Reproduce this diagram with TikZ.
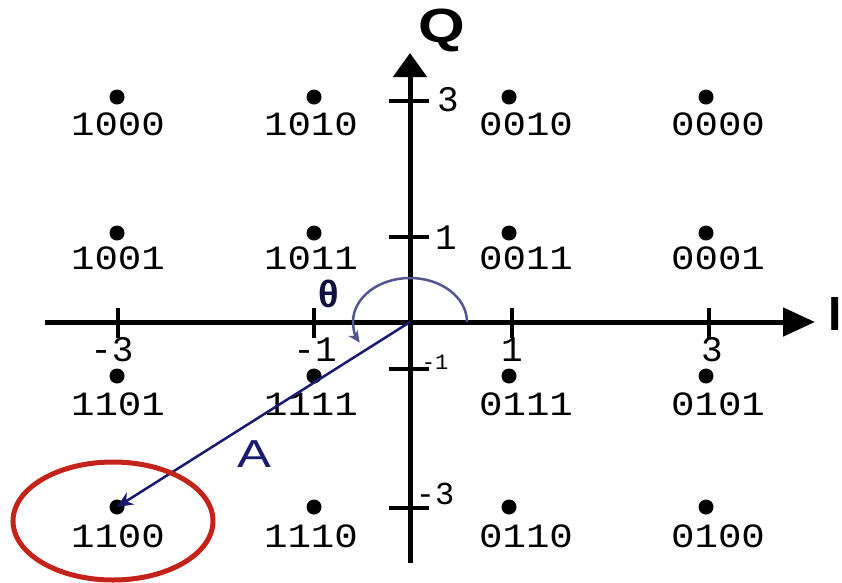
\documentclass[tikz,border=0pt]{standalone}
\usepackage{fontspec}
\setmainfont{Liberation Sans}
\newfontfamily\monof{Liberation Mono}
\usetikzlibrary{arrows.meta}
\definecolor{navy}{RGB}{25,25,110}
\definecolor{arcblue}{RGB}{85,85,145}
\definecolor{circred}{RGB}{195,35,25}
\begin{document}
\begin{tikzpicture}[x=1pt,y=-1pt,
  axisline/.style={line width=5pt},
  tickmark/.style={line width=3.5pt},
  dot/.style={circle,fill=black,inner sep=0pt,minimum size=15pt},
  code/.style={font=\monof\fontsize{34}{34}\selectfont,xscale=1.15,inner sep=0pt},
  ticklab/.style={font=\monof\fontsize{36}{36}\selectfont,inner sep=0pt},
  smalltick/.style={font=\monof\fontsize{22}{22}\selectfont,inner sep=0pt},
  axlab/.style={font=\bfseries\fontsize{48}{48}\selectfont,inner sep=0pt},
]
\useasboundingbox (0,0) rectangle (842,582);
\fill[white] (0,0) rectangle (842,582);

% axes
\coordinate (O) at (410,322);
\coordinate (xl) at (45,322);
\coordinate (xr) at (815,322);
\coordinate (yb) at (410,563);
\coordinate (yt) at (410,53);
\draw[axisline,-{Triangle[length=32pt,width=28pt]}] (xl) -- (xr);
\draw[axisline,-{Triangle[length=24pt,width=33pt]}] (yb) -- (yt);
\node[axlab,xscale=1.25] (Q) at (442,30) {Q};
\node[axlab,anchor=east] (I) at (842,314) {I};

% x ticks
\foreach \x/\n in {118/xa,314/xb,512/xc,709/xd}{
  \coordinate (\n t) at (\x,308);
  \coordinate (\n b) at (\x,338);
  \draw[tickmark] (\n t) -- (\n b);
}
\node[ticklab] (lxa) at (112,350) {-3};
\node[ticklab] (lxb) at (315,350) {-1};
\node[ticklab] (lxc) at (512,350) {1};
\node[ticklab] (lxd) at (712,350) {3};

% y ticks
\foreach \y/\n in {101/ya,237/yb,369/yc,508/yd}{
  \coordinate (\n l) at (389,\y);
  \coordinate (\n r) at (429,\y);
  \draw[tickmark] (\n l) -- (\n r);
}
\node[ticklab] (lya) at (448,100) {3};
\node[ticklab] (lyb) at (446,238) {1};
\node[smalltick] (lyc) at (435,362) {-1};
\node[ticklab,font=\monof\fontsize{32}{32}\selectfont] (lyd) at (435,494) {-3};

% constellation points
\foreach \x/\c in {117/a,314/b,509/c,706/d}{
  \foreach \y/\r in {97/1,233/2,376/3,507/4}{
    \node[dot] (d\c\r) at (\x,\y) {};
  }
}
\node[code] (l a1) at (118,124) {1000};
\node[code] (l b1) at (311,124) {1010};
\node[code] (l c1) at (526,124) {0010};
\node[code] (l d1) at (718,124) {0000};
\node[code] (l a2) at (118,258) {1001};
\node[code] (l b2) at (311,258) {1011};
\node[code] (l c2) at (526,258) {0011};
\node[code] (l d2) at (718,258) {0001};
\node[code] (l a3) at (118,404) {1101};
\node[code] (l b3) at (311,404) {1111};
\node[code] (l c3) at (526,404) {0111};
\node[code] (l d3) at (718,404) {0101};
\node[code] (l a4) at (118,536) {1100};
\node[code] (l b4) at (311,536) {1110};
\node[code] (l c4) at (526,536) {0110};
\node[code] (l d4) at (718,536) {0100};

% angle arc
\coordinate (arcS) at (467,322);
\draw[arcblue,line width=2.5pt,-{Stealth[length=12pt,width=11pt]}]
  (arcS) arc[start angle=0,end angle=-208,x radius=57,y radius=44];
\node[font=\bfseries\fontsize{38}{38}\selectfont,text=navy!60!black,inner sep=0pt] (theta) at (329,294) {θ};

% amplitude vector
\draw[navy,line width=2.5pt,-{Stealth[length=16pt,width=14pt]}] (O) -- (da4.center);
\node[font=\fontsize{39}{39}\selectfont,text=navy,xscale=1.3,inner sep=0pt] (A) at (254,454) {A};

% highlight
\coordinate (hc) at (113,521);
\draw[circred,line width=5pt] (hc) ellipse[x radius=100,y radius=59];
\end{tikzpicture}
\end{document}
